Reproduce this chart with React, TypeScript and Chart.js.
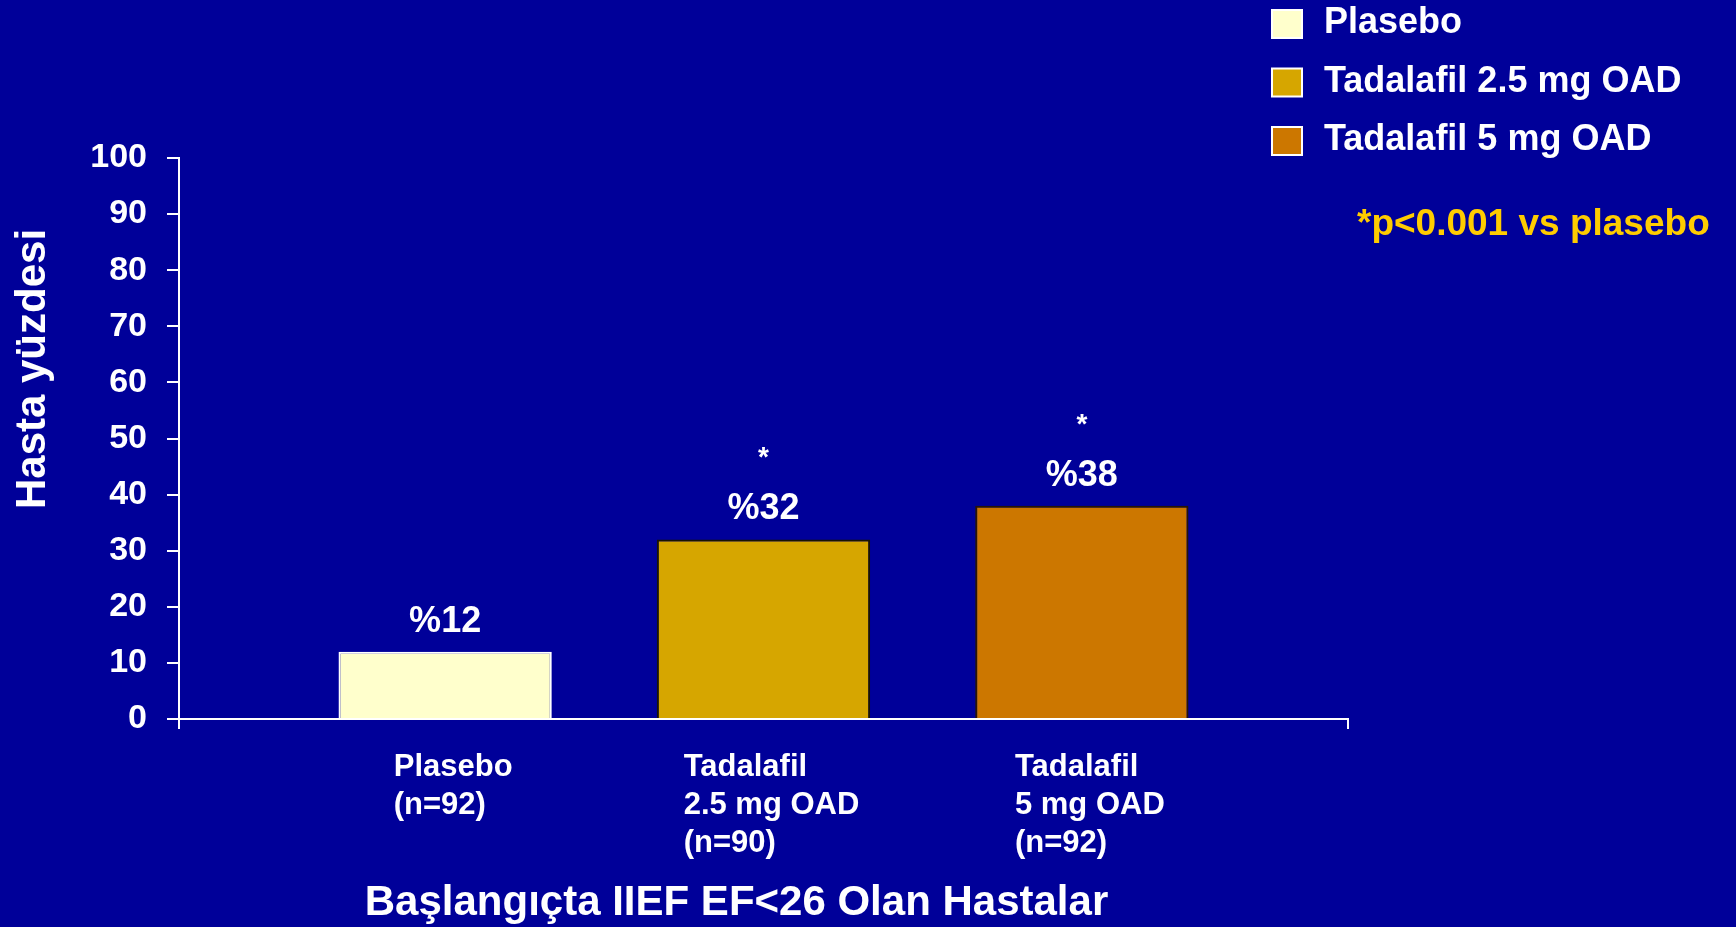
import React, { useEffect, useRef } from "react";
import { Chart, registerables } from "chart.js";

Chart.register(...registerables);

// ---- data ----
const categories = [""];
const seriesNames = ["Plasebo", "Tadalafil 2.5 mg OAD", "Tadalafil 5 mg OAD"];
const seriesValues = [12, 32, 38];
const valueLabels = ["%12", "%32", "%38"];
const significance = ["", "*", "*"];
const groupLabels = [
  ["Plasebo", "(n=92)"],
  ["Tadalafil", "2.5 mg OAD", "(n=90)"],
  ["Tadalafil", "5 mg OAD", "(n=92)"],
];
const yMin = 0;
const yMax = 100;
const yStep = 10;
const yTitle = "Hasta yüzdesi";
const xTitle = "Başlangıçta IIEF EF<26 Olan Hastalar";
const noteText = "*p<0.001 vs plasebo";

// ---- style ----
const FONT = "'Liberation Sans', Arial, sans-serif";
const BG = "#000099";
const fills = ["#FFFFCC", "#D6A600", "#CC7700"];
const borders = ["#FFFFFF", "#1A1400", "#2A1600"];
const W = 1736;
const H = 927;

const textPlugin = {
  id: "slideText",
  beforeDraw(chart: any) {
    const ctx = chart.ctx;
    ctx.save();
    ctx.fillStyle = BG;
    ctx.fillRect(0, 0, chart.width, chart.height);
    ctx.restore();
  },
  afterDraw(chart: any) {
    const ctx = chart.ctx;
    const area = chart.chartArea;
    ctx.save();
    ctx.fillStyle = "#FFFFFF";
    ctx.textBaseline = "alphabetic";

    // y title
    ctx.save();
    ctx.font = `bold 42px ${FONT}`;
    ctx.translate(45, 369);
    ctx.rotate(-Math.PI / 2);
    ctx.textAlign = "center";
    ctx.fillText(yTitle, 0, 0);
    ctx.restore();

    seriesValues.forEach((_, i) => {
      const meta = chart.getDatasetMeta(i);
      const bar = meta.data[0];
      if (!bar) return;
      const cx = bar.x;
      const top = bar.y;
      // value label
      ctx.textAlign = "center";
      ctx.font = `bold 36px ${FONT}`;
      ctx.fillText(valueLabels[i], cx, top - 20);
      if (significance[i]) {
        ctx.font = `bold 28px ${FONT}`;
        ctx.fillText(significance[i], cx, top - 73);
      }
      // group labels under axis
      ctx.font = `bold 31px ${FONT}`;
      const lines = groupLabels[i];
      const maxW = Math.max(...lines.map((l) => ctx.measureText(l).width));
      const left = cx + 8 - maxW / 2;
      ctx.textAlign = "left";
      lines.forEach((l, j) => {
        ctx.fillText(l, left, area.bottom + 57 + j * 38);
      });
    });

    // bottom title
    ctx.textAlign = "center";
    ctx.font = `bold 42px ${FONT}`;
    ctx.fillText(xTitle, (area.left + area.right) / 2 - 27, 915);

    // legend
    seriesNames.forEach((name, i) => {
      const base = 33 + i * 58.5;
      ctx.fillStyle = fills[i];
      ctx.fillRect(1272, base - 23, 30, 28);
      ctx.strokeStyle = "#FFFFFF";
      ctx.lineWidth = 2;
      ctx.strokeRect(1272, base - 23, 30, 28);
      ctx.fillStyle = "#FFFFFF";
      ctx.textAlign = "left";
      ctx.font = `bold 36px ${FONT}`;
      ctx.fillText(name, 1324, base);
    });

    // note
    ctx.fillStyle = "#FFCC00";
    ctx.font = `bold 37px ${FONT}`;
    ctx.textAlign = "left";
    ctx.fillText(noteText, 1357, 235);
    ctx.restore();
  },
};

export default function App() {
  const ref = useRef<HTMLCanvasElement | null>(null);
  useEffect(() => {
    if (!ref.current) return;
    const chart = new Chart(ref.current, {
      type: "bar",
      data: {
        labels: categories,
        datasets: seriesNames.map((name, i) => ({
          label: name,
          data: [seriesValues[i]],
          backgroundColor: fills[i],
          borderColor: borders[i],
          borderWidth: 2,
          borderSkipped: "bottom",
          categoryPercentage: 0.817,
          barPercentage: 0.67,
        })),
      },
      options: {
        animation: false,
        responsive: false,
        devicePixelRatio: 1,
        layout: { padding: { left: 0, top: 158, right: 388, bottom: 0 } },
        plugins: {
          legend: { display: false },
          tooltip: { enabled: false },
          title: { display: false },
        },
        scales: {
          x: {
            type: "category",
            offset: true,
            grid: {
              display: true,
              offset: true,
              drawOnChartArea: false,
              drawTicks: true,
              tickLength: 10,
              color: "#FFFFFF",
              lineWidth: 2,
            },
            border: { display: true, color: "#FFFFFF", width: 2 },
            ticks: { display: false },
            afterFit: (s: any) => {
              s.height = H - 719;
            },
          },
          y: {
            min: yMin,
            max: yMax,
            ticks: {
              stepSize: yStep,
              color: "#FFFFFF",
              padding: 20,
              font: { family: FONT, size: 34, weight: "bold" },
            },
            grid: {
              drawOnChartArea: false,
              drawTicks: true,
              tickLength: 12,
              color: "#FFFFFF",
              lineWidth: 2,
            },
            border: { display: true, color: "#FFFFFF", width: 2 },
            afterFit: (s: any) => {
              s.width = 179;
            },
          },
        },
      },
      plugins: [textPlugin],
    } as any);
    return () => chart.destroy();
  }, []);
  return (
    <div style={{ position: "fixed", left: 0, top: 0, width: W, height: H, background: BG }}>
      <canvas ref={ref} width={W} height={H} style={{ width: W, height: H, display: "block" }} />
    </div>
  );
}
